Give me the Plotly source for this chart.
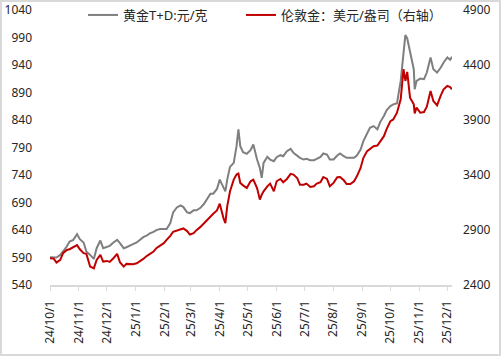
import plotly.graph_objects as go

dates = [
    "2024-10-01", "2024-10-05", "2024-10-08", "2024-10-12", "2024-10-15", "2024-10-19",
    "2024-10-22", "2024-10-26", "2024-10-30", "2024-11-02", "2024-11-06", "2024-11-09",
    "2024-11-13", "2024-11-17", "2024-11-20", "2024-11-24", "2024-11-27", "2024-12-01",
    "2024-12-04", "2024-12-08", "2024-12-12", "2024-12-15", "2024-12-19", "2024-12-22",
    "2024-12-26", "2024-12-29", "2025-01-02", "2025-01-06", "2025-01-09", "2025-01-13",
    "2025-01-16", "2025-01-20", "2025-01-23", "2025-01-27", "2025-01-31", "2025-02-03",
    "2025-02-07", "2025-02-10", "2025-02-14", "2025-02-18", "2025-02-21", "2025-02-25",
    "2025-02-28", "2025-03-04", "2025-03-07", "2025-03-11", "2025-03-15", "2025-03-18",
    "2025-03-22", "2025-03-25", "2025-03-29", "2025-04-01", "2025-04-05", "2025-04-07",
    "2025-04-09", "2025-04-12", "2025-04-16", "2025-04-19", "2025-04-21", "2025-04-23",
    "2025-04-26", "2025-04-30", "2025-05-04", "2025-05-07", "2025-05-11", "2025-05-14",
    "2025-05-16", "2025-05-18", "2025-05-22", "2025-05-25", "2025-05-29", "2025-06-01",
    "2025-06-05", "2025-06-08", "2025-06-12", "2025-06-16", "2025-06-19", "2025-06-23",
    "2025-06-26", "2025-06-30", "2025-07-03", "2025-07-07", "2025-07-11", "2025-07-14",
    "2025-07-18", "2025-07-21", "2025-07-25", "2025-07-28", "2025-08-01", "2025-08-05",
    "2025-08-08", "2025-08-12", "2025-08-15", "2025-08-19", "2025-08-23", "2025-08-26",
    "2025-08-30", "2025-09-02", "2025-09-06", "2025-09-09", "2025-09-13", "2025-09-17",
    "2025-09-20", "2025-09-24", "2025-09-27", "2025-10-01", "2025-10-04", "2025-10-08",
    "2025-10-12", "2025-10-15", "2025-10-17", "2025-10-19", "2025-10-22", "2025-10-26",
    "2025-10-27", "2025-10-29", "2025-11-02", "2025-11-06", "2025-11-09", "2025-11-13",
    "2025-11-16", "2025-11-20", "2025-11-24", "2025-11-27", "2025-12-01", "2025-12-04",
    "2025-12-06",
]

gold_td = [
    590.5, 590.5, 589.9, 594.7, 600.8, 610.0,
    619.1, 622.1, 632.5, 623.3, 617.3, 600.8,
    594.7, 587.4, 606.9, 620.9, 606.9, 610.0,
    611.2, 617.3, 622.1, 616.0, 606.9, 608.7,
    611.2, 614.2, 617.3, 622.1, 627.0, 630.0,
    633.7, 636.7, 639.8, 641.6, 641.6, 641.6,
    652.5, 672.0, 681.1, 684.8, 681.7, 672.0,
    670.8, 675.7, 675.7, 679.9, 687.2, 696.3,
    706.1, 706.1, 714.6, 731.6, 716.4, 710.3,
    731.6, 754.7, 762.0, 792.4, 822.9, 792.4,
    781.5, 778.5, 785.1, 795.5, 768.1, 752.9,
    734.7, 762.0, 773.0, 768.1, 765.1, 772.4,
    776.0, 774.2, 783.3, 787.6, 780.3, 775.4,
    771.2, 768.1, 769.3, 766.9, 766.9, 769.3,
    773.0, 779.1, 777.2, 768.1, 768.1, 775.4,
    779.1, 774.2, 771.2, 771.2, 771.2, 775.4,
    786.4, 801.6, 816.8, 825.9, 828.9, 822.9,
    836.2, 847.2, 858.1, 865.4, 868.5, 870.3,
    911.1, 956.7, 994.4, 988.3, 962.8, 932.4,
    895.9, 911.1, 915.3, 914.1, 926.3, 953.6,
    932.4, 926.3, 935.4, 944.5, 953.6, 949.4,
    954.9,
]

london_gold = [
    2643, 2640, 2604, 2628, 2689, 2719,
    2725, 2744, 2762, 2725, 2689, 2683,
    2567, 2552, 2628, 2674, 2613, 2619,
    2610, 2643, 2683, 2607, 2567, 2592,
    2589, 2589, 2598, 2619, 2637, 2665,
    2683, 2704, 2735, 2759, 2780, 2811,
    2847, 2884, 2893, 2902, 2914, 2890,
    2859, 2871, 2899, 2926, 2963, 2993,
    3024, 3048, 3078, 3139, 3008, 2963,
    3115, 3252, 3358, 3404, 3413, 3328,
    3306, 3282, 3343, 3358, 3282, 3176,
    3221, 3252, 3297, 3322, 3252, 3343,
    3364, 3334, 3364, 3410, 3404, 3373,
    3312, 3312, 3322, 3291, 3297, 3322,
    3334, 3382, 3364, 3297, 3328, 3379,
    3382, 3352, 3318, 3318, 3343, 3388,
    3464, 3556, 3617, 3638, 3662, 3668,
    3708, 3753, 3820, 3890, 3905, 3966,
    4088, 4362, 4255, 4337, 4103, 4042,
    3960, 4012, 3966, 3972, 4021, 4164,
    4073, 4033, 4124, 4179, 4210, 4200,
    4179,
]

tick_dates = [
    "2024-10-01", "2024-11-01", "2024-12-01", "2025-01-01", "2025-02-01",
    "2025-03-01", "2025-04-01", "2025-05-01", "2025-06-01", "2025-07-01",
    "2025-08-01", "2025-09-01", "2025-10-01", "2025-11-01", "2025-12-01",
]
tick_labels = [
    "24/10/1", "24/11/1", "24/12/1", "25/1/1", "25/2/1", "25/3/1", "25/4/1",
    "25/5/1", "25/6/1", "25/7/1", "25/8/1", "25/9/1", "25/10/1", "25/11/1", "25/12/1",
]

series_names = ["黄金T+D:元/克", "伦敦金：美元/盎司（右轴）"]

FONT = "Noto Sans, Noto Sans CJK SC, sans-serif"
TXT = "#262626"

fig = go.Figure()
fig.add_trace(go.Scatter(
    x=dates, y=gold_td, name=series_names[0], mode="lines",
    line=dict(color="#7f7f7f", width=2), yaxis="y", legend="legend",
))
fig.add_trace(go.Scatter(
    x=dates, y=london_gold, name=series_names[1], mode="lines",
    line=dict(color="#c00000", width=2), yaxis="y2", legend="legend2",
))

legend_common = dict(
    orientation="h", xref="container", yref="container", xanchor="left",
    y=1 - 15 / 356, yanchor="middle", bgcolor="rgba(0,0,0,0)",
    font=dict(size=13, color=TXT),
)

fig.update_layout(
    width=501, height=356,
    margin=dict(l=50, r=49, t=10, b=71, autoexpand=False),
    paper_bgcolor="white", plot_bgcolor="white",
    font=dict(family=FONT, size=12, color=TXT),
    showlegend=True,
    legend=dict(x=83 / 501, **legend_common),
    legend2=dict(x=241 / 501, **legend_common),
    xaxis=dict(
        type="date", range=["2024-10-01", "2025-12-06"], automargin=False,
        tickmode="array", tickvals=tick_dates, ticktext=tick_labels,
        tickangle=-90, ticks="outside", ticklen=4, tickcolor="#d9d9d9",
        showline=True, linecolor="#d9d9d9", linewidth=1.5,
        showgrid=False, zeroline=False, ticklabelstandoff=5,
        tickfont=dict(size=12, color=TXT),
    ),
    yaxis=dict(
        range=[540, 1040], tickmode="linear", tick0=540, dtick=50,
        automargin=False,
        showgrid=False, zeroline=False, showline=False, ticks="",
        ticklabelstandoff=17, tickfont=dict(size=12, color=TXT),
    ),
    yaxis2=dict(
        range=[2400, 4900], tickmode="linear", tick0=2400, dtick=500,
        overlaying="y", side="right", automargin=False,
        showgrid=False, zeroline=False, showline=False, ticks="",
        ticklabelstandoff=10, tickfont=dict(size=12, color=TXT),
    ),
    shapes=[dict(
        type="rect", xref="paper", yref="paper",
        x0=(1 - 50) / 402, x1=(500 - 50) / 402,
        y0=(285 - 355) / 275, y1=(285 - 1) / 275,
        line=dict(color="#d9d9d9", width=2), fillcolor="rgba(0,0,0,0)",
        layer="below",
    )],
)

fig.write_html(
    "out.html",
    config={"displayModeBar": False},
    post_script="document.body.style.margin='0';document.body.style.overflow='hidden';",
)
